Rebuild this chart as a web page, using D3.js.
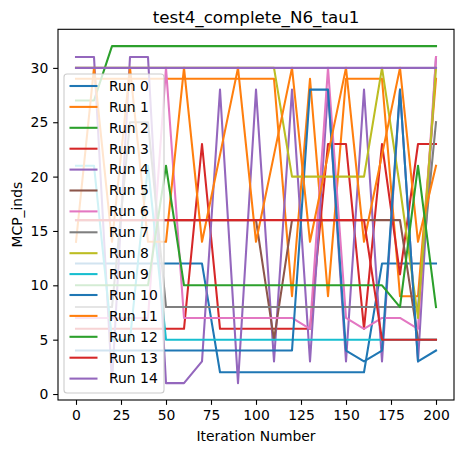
<!DOCTYPE html>
<html>
<head>
<meta charset="utf-8">
<script src="https://cdn.jsdelivr.net/npm/d3@7"></script>
<style>
  html, body { margin: 0; padding: 0; background: #fff; }
  svg { display: block; font-family: "DejaVu Sans", sans-serif; }
</style>
</head>
<body>
<svg id="chart" width="463" height="453"></svg>
<script>
const iterations = [0,10,20,30,40,50,60,70,80,90,100,110,120,130,140,150,160,170,180,190,200];
const runNames = ["Run 0","Run 1","Run 2","Run 3","Run 4","Run 5","Run 6","Run 7","Run 8","Run 9","Run 10","Run 11","Run 12","Run 13","Run 14"];
const colors = ["#1f77b4","#ff7f0e","#2ca02c","#d62728","#9467bd","#8c564b","#e377c2","#7f7f7f","#bcbd22","#17becf","#1f77b4","#ff7f0e","#2ca02c","#d62728","#9467bd"];

const run0  = [12,12,12,12,12,12,12,12,2,2,2,2,2,2,2,2,2,12,12,12,12];
const run1  = [29,29,29,29,29,29,29,29,29,29,29,29,9,29,9,29,29,29,9,9,29];
const run2  = [27,27,32,32,32,32,32,32,32,32,32,32,32,32,32,32,32,32,32,32,32];
const run3  = [6,6,6,6,6,6,6,23,6,6,6,6,6,6,23,23,6,23,11,23,23];
const run4  = [31,31,1,31,31,1,1,3,28,1,28,3,28,3,28,3,28,3,28,3,31];
const run5  = [16,16,16,16,16,16,16,16,16,16,16,5,16,16,16,16,16,16,16,5,5];
const run6  = [7,7,7,7,7,30,7,7,7,7,7,7,7,6,30,7,6,7,7,6,31];
const run7  = [8,8,8,25,25,8,8,8,8,8,8,8,8,8,8,8,8,8,8,8,25];
const run8  = [30,30,30,30,30,30,30,30,30,30,30,30,20,20,20,20,20,30,19,7,30];
const run9  = [21,21,5,5,21,5,5,5,5,5,5,5,5,5,5,5,5,5,5,5,5];
const run10 = [4,4,4,4,4,4,4,4,4,4,4,4,4,28,28,4,3,4,28,3,4];
const run11 = [14,30,14,30,14,14,30,14,22,30,14,22,30,14,22,30,14,22,30,14,21];
const run12 = [10,10,10,10,10,21,10,10,10,10,10,10,10,10,10,10,10,10,8,21,8];
const run13 = [16,16,16,16,16,16,16,16,16,16,16,16,16,16,16,16,16,5,5,5,5];
const run14 = [30,30,30,30,30,30,30,30,30,30,30,30,30,30,30,30,30,30,30,30,30];

const xTicks = [0,25,50,75,100,125,150,175,200];
const yTicks = [0,5,10,15,20,25,30];
const titleText = "test4_complete_N6_tau1";
const xLabel = "Iteration Number";
const yLabel = "MCP_inds";

(function () {
const seriesValues = [run0,run1,run2,run3,run4,run5,run6,run7,run8,run9,run10,run11,run12,run13,run14];
const series = runNames.map((name, i) => ({
  name, color: colors[i],
  points: iterations.map((it, j) => ({x: it, y: seriesValues[i][j]}))
}));

const svg = d3.select("#chart");
const pL = 58, pR = 454, pT = 29.3, pB = 400;

const x = d3.scaleLinear().domain([-10, 210]).range([pL, pR]);
const y = d3.scaleLinear().domain([-0.55, 33.55]).range([pB, pT]);

svg.append("defs").append("clipPath").attr("id","clip")
  .append("rect").attr("x", pL).attr("y", pT).attr("width", pR-pL).attr("height", pB-pT);

const line = d3.line().x(d => x(d.x)).y(d => y(d.y));
const linesG = svg.append("g").attr("clip-path","url(#clip)");
series.forEach(s => {
  linesG.append("path")
    .datum(s.points)
    .attr("d", line)
    .attr("fill","none")
    .attr("stroke", s.color)
    .attr("stroke-width", 2.08)
    .attr("stroke-linejoin","round")
    .attr("stroke-linecap","square");
});

const fs = 13.9;
const xAxis = d3.axisBottom(x).tickValues(xTicks).tickSize(4.86).tickPadding(4.86).tickFormat(d3.format("d"));
const yAxis = d3.axisLeft(y).tickValues(yTicks).tickSize(4.86).tickPadding(4.86).tickFormat(d3.format("d"));

const gx = svg.append("g").attr("transform", `translate(0,${pB})`).call(xAxis);
const gy = svg.append("g").attr("transform", `translate(${pL},0)`).call(yAxis);
[gx, gy].forEach(g => {
  g.select(".domain").remove();
  g.selectAll(".tick line").attr("stroke","#000").attr("stroke-width",1.1);
  g.selectAll(".tick text").attr("font-size", fs).attr("fill","#000").attr("font-family","DejaVu Sans");
});

svg.append("rect")
  .attr("x", pL).attr("y", pT).attr("width", pR-pL).attr("height", pB-pT)
  .attr("fill","none").attr("stroke","#000").attr("stroke-width",1.1);

svg.append("text").attr("x", (pL+pR)/2).attr("y", 22.5)
  .attr("text-anchor","middle").attr("font-size", 16.7).attr("fill","#000").text(titleText);
svg.append("text").attr("x", (pL+pR)/2).attr("y", 441)
  .attr("text-anchor","middle").attr("font-size", fs).attr("fill","#000").text(xLabel);
svg.append("text").attr("transform", `translate(22,${(pT+pB)/2}) rotate(-90)`)
  .attr("text-anchor","middle").attr("font-size", fs).attr("fill","#000").text(yLabel);

const lgX = 64, lgY = 74, lgW = 100, rowH = 20.9;
const lgH = rowH * series.length + 5.5;
const lg = svg.append("g");
lg.append("rect").attr("x", lgX).attr("y", lgY).attr("width", lgW).attr("height", lgH)
  .attr("rx", 3).attr("ry", 3)
  .attr("fill","#fff").attr("fill-opacity",0.8)
  .attr("stroke","#cccccc").attr("stroke-width",1.1);
series.forEach((s, i) => {
  const cy = lgY + 12 + i * rowH;
  lg.append("line").attr("x1", lgX + 5.5).attr("x2", lgX + 33.5).attr("y1", cy).attr("y2", cy)
    .attr("stroke", s.color).attr("stroke-width", 2.08);
  lg.append("text").attr("x", lgX + 45).attr("y", cy).attr("dy","0.35em")
    .attr("font-size", fs).attr("fill","#000").text(s.name);
});
})();
</script>
</body>
</html>
